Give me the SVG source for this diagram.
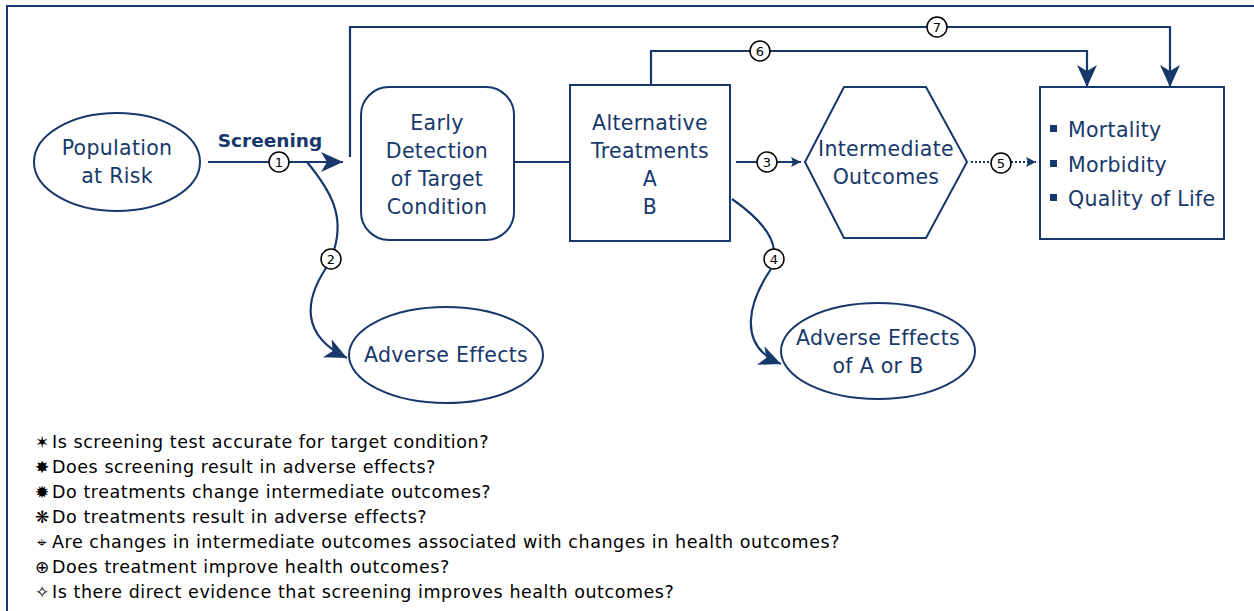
<svg xmlns="http://www.w3.org/2000/svg" width="1254" height="611" viewBox="0 0 1254 611">
<style>
.n{fill:#fff;stroke:#17386b;stroke-width:2}
.t{font-family:"DejaVu Sans",sans-serif;font-size:20.5px;letter-spacing:0.3px;fill:#17386b;text-anchor:middle}
.c{fill:none;stroke:#17386b;stroke-width:2.2}
.num circle{fill:#fff;stroke:#000;stroke-width:1.5}
.num text{font-family:"DejaVu Sans",sans-serif;font-size:13px;fill:#000;text-anchor:middle}
.q{font-family:"DejaVu Sans",sans-serif;font-size:17.5px;letter-spacing:0.55px;fill:#000}
.b{font-family:"DejaVu Sans",sans-serif;font-size:17px;fill:#000;text-anchor:middle}
</style>
<defs>
<marker id="big" viewBox="0 0 22 22" refX="22" refY="11" markerWidth="22" markerHeight="22" markerUnits="userSpaceOnUse" orient="auto">
<path d="M0,1 L22,11 L0,21 L6,11 Z" fill="#17386b"/>
</marker>
<marker id="sm" viewBox="0 0 10 10" refX="10" refY="5" markerWidth="10" markerHeight="10" markerUnits="userSpaceOnUse" orient="auto">
<path d="M0,0 L10,5 L0,10 L2,5 Z" fill="#17386b"/>
</marker>
</defs>
<rect x="7" y="6" width="1260" height="620" fill="none" stroke="#17386b" stroke-width="2"/>
<g id="connectors">
<path class="c" d="M208,162 H343" marker-end="url(#big)"/>
<path class="c" d="M307,162 C330,190 345,215 334,250"/>
<path class="c" d="M326,268 C305,300 300,335 347,358" marker-end="url(#big)"/>
<path class="c" d="M350,157 V27 H1170 V87" marker-end="url(#big)"/>
<path class="c" d="M651,85 V51 H1087 V87" marker-end="url(#big)"/>
<path class="c" d="M514,162 H570"/>
<path class="c" d="M736,162 H801" marker-end="url(#sm)"/>
<path class="c" d="M971,162 H1036" stroke-dasharray="2,2" stroke-width="1.8" marker-end="url(#sm)"/>
<path class="c" d="M732,199 C755,215 772,232 774,250"/>
<path class="c" d="M771,269 C750,300 735,345 781,364" marker-end="url(#big)"/>
</g>
<g id="n1"><ellipse class="n" cx="117" cy="162" rx="83" ry="49"/>
<text class="t" x="117" y="155">Population</text><text class="t" x="117" y="183">at Risk</text></g>
<text id="lbl-screening" class="t" x="270" y="147" style="font-weight:bold;font-size:18.5px;letter-spacing:0">Screening</text>
<g id="n2"><ellipse class="n" cx="446" cy="355" rx="97" ry="48"/>
<text class="t" x="446" y="362">Adverse Effects</text></g>
<g id="n3"><rect class="n" x="361" y="87" width="153" height="153" rx="28"/>
<text class="t" x="437" y="130">Early</text><text class="t" x="437" y="158">Detection</text><text class="t" x="437" y="186">of Target</text><text class="t" x="437" y="214">Condition</text></g>
<g id="n4"><rect class="n" x="570" y="85" width="160" height="156"/>
<text class="t" x="650" y="130">Alternative</text><text class="t" x="650" y="158">Treatments</text><text class="t" x="650" y="186">A</text><text class="t" x="650" y="214">B</text></g>
<g id="n5"><polygon class="n" points="805,162 844,87 926,87 967,162 926,238 844,238"/>
<text class="t" x="886" y="156">Intermediate</text><text class="t" x="886" y="184">Outcomes</text></g>
<g id="n6"><rect class="n" x="1040" y="87" width="184" height="152"/>
<rect x="1050" y="125" width="7" height="7" fill="#17386b"/>
<rect x="1050" y="160" width="7" height="7" fill="#17386b"/>
<rect x="1050" y="194" width="7" height="7" fill="#17386b"/>
<text class="t" x="1068" y="137" style="text-anchor:start">Mortality</text>
<text class="t" x="1068" y="172" style="text-anchor:start">Morbidity</text>
<text class="t" x="1068" y="206" style="text-anchor:start">Quality of Life</text></g>
<g id="n7"><ellipse class="n" cx="878" cy="351" rx="97" ry="48"/>
<text class="t" x="878" y="345">Adverse Effects</text><text class="t" x="878" y="373">of A or B</text></g>
<g class="num" id="labels">
<circle cx="279" cy="162" r="10"/><text x="279" y="167">1</text>
<circle cx="331" cy="259" r="10"/><text x="331" y="264">2</text>
<circle cx="767" cy="162" r="10"/><text x="767" y="167">3</text>
<circle cx="774" cy="259" r="10"/><text x="774" y="264">4</text>
<circle cx="1001" cy="163" r="10"/><text x="1001" y="168">5</text>
<circle cx="760" cy="51" r="10"/><text x="760" y="56">6</text>
<circle cx="937" cy="27" r="10"/><text x="937" y="32">7</text>
</g>
<g id="questions">
<text class="b" x="42" y="448">✶</text><text class="q" x="52" y="448">Is screening test accurate for target condition?</text>
<text class="b" x="42" y="473">✸</text><text class="q" x="52" y="473">Does screening result in adverse effects?</text>
<text class="b" x="42" y="498">✹</text><text class="q" x="52" y="498">Do treatments change intermediate outcomes?</text>
<text class="b" x="42" y="523">❋</text><text class="q" x="52" y="523">Do treatments result in adverse effects?</text>
<text class="b" x="42" y="548">⌖</text><text class="q" x="52" y="548">Are changes in intermediate outcomes associated with changes in health outcomes?</text>
<text class="b" x="42" y="573">⊕</text><text class="q" x="52" y="573">Does treatment improve health outcomes?</text>
<text class="b" x="42" y="598">✧</text><text class="q" x="52" y="598">Is there direct evidence that screening improves health outcomes?</text>
</g>
</svg>
